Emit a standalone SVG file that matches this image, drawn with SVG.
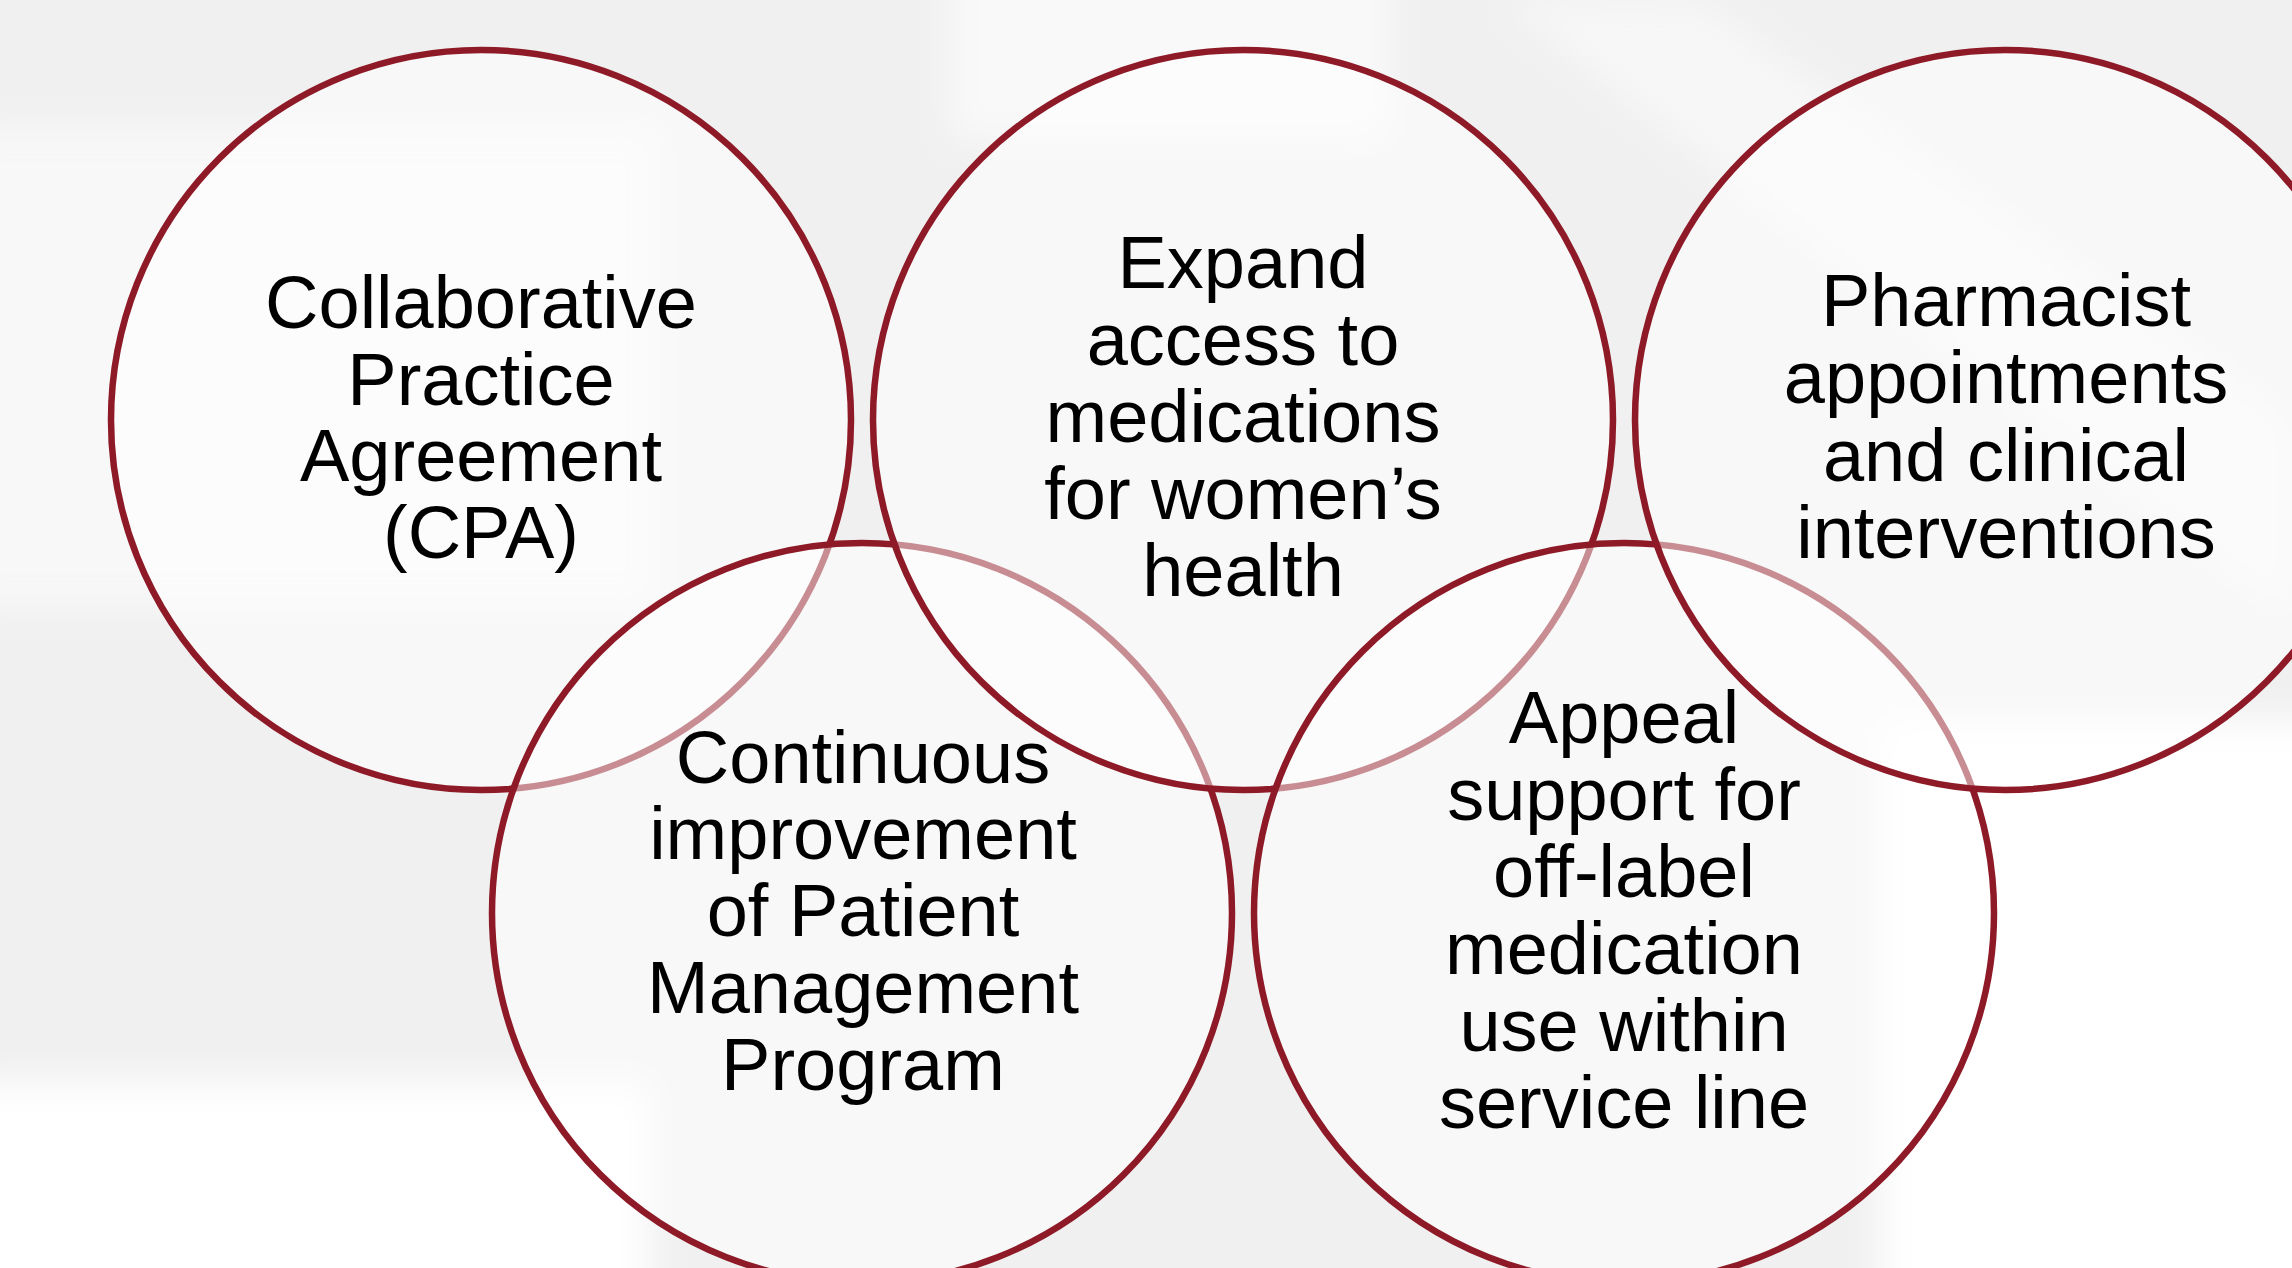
<svg xmlns="http://www.w3.org/2000/svg" width="2292" height="1268" viewBox="0 0 2292 1268">
  <defs>
    <filter id="soft" x="-10%" y="-10%" width="120%" height="120%">
      <feGaussianBlur stdDeviation="18"/>
    </filter>
    <style>
      .ring { fill: #ffffff; fill-opacity: 0.5; stroke: #8e1a27; stroke-width: 6.5; }
      .lbl { font-family: "Liberation Sans", Arial, sans-serif; font-size: 74px; fill: #000000; text-anchor: middle; }
    </style>
  </defs>

  <g id="background">
    <rect x="0" y="0" width="2292" height="1268" fill="#eff0ef"/>
    <g filter="url(#soft)">
      <rect x="-40" y="128" width="700" height="480" fill="#f8f8f8"/>
      <rect x="-40" y="1082" width="690" height="230" fill="#ffffff"/>
      <rect x="1880" y="720" width="460" height="600" fill="#ffffff"/>
      <rect x="950" y="-40" width="440" height="180" fill="#f9f9f9"/>
      <polygon points="1500,0 1700,0 2292,420 2292,620" fill="#f7f7f7"/>
    </g>
  </g>

  <g id="node-cpa">
    <circle class="ring" cx="481" cy="420" r="370"/>
    <text class="lbl" x="481" y="328">Collaborative</text>
    <text class="lbl" x="481" y="405">Practice</text>
    <text class="lbl" x="481" y="481">Agreement</text>
    <text class="lbl" x="481" y="558">(CPA)</text>
  </g>

  <g id="node-continuous">
    <circle class="ring" cx="862" cy="913" r="370"/>
    <text class="lbl" x="863" y="783">Continuous</text>
    <text class="lbl" x="863" y="859">improvement</text>
    <text class="lbl" x="863" y="936">of Patient</text>
    <text class="lbl" x="863" y="1013">Management</text>
    <text class="lbl" x="863" y="1090">Program</text>
  </g>

  <g id="node-expand">
    <circle class="ring" cx="1243" cy="420" r="370"/>
    <text class="lbl" x="1243" y="288">Expand</text>
    <text class="lbl" x="1243" y="365">access to</text>
    <text class="lbl" x="1243" y="442">medications</text>
    <text class="lbl" x="1243" y="519">for women’s</text>
    <text class="lbl" x="1243" y="596">health</text>
  </g>

  <g id="node-appeal">
    <circle class="ring" cx="1624" cy="913" r="370"/>
    <text class="lbl" x="1624" y="743">Appeal</text>
    <text class="lbl" x="1624" y="820">support for</text>
    <text class="lbl" x="1624" y="897">off-label</text>
    <text class="lbl" x="1624" y="974">medication</text>
    <text class="lbl" x="1624" y="1051">use within</text>
    <text class="lbl" x="1624" y="1128">service line</text>
  </g>

  <g id="node-pharmacist">
    <circle class="ring" cx="2005" cy="420" r="370"/>
    <text class="lbl" x="2006" y="326">Pharmacist</text>
    <text class="lbl" x="2006" y="403">appointments</text>
    <text class="lbl" x="2006" y="481">and clinical</text>
    <text class="lbl" x="2006" y="558">interventions</text>
  </g>
</svg>
